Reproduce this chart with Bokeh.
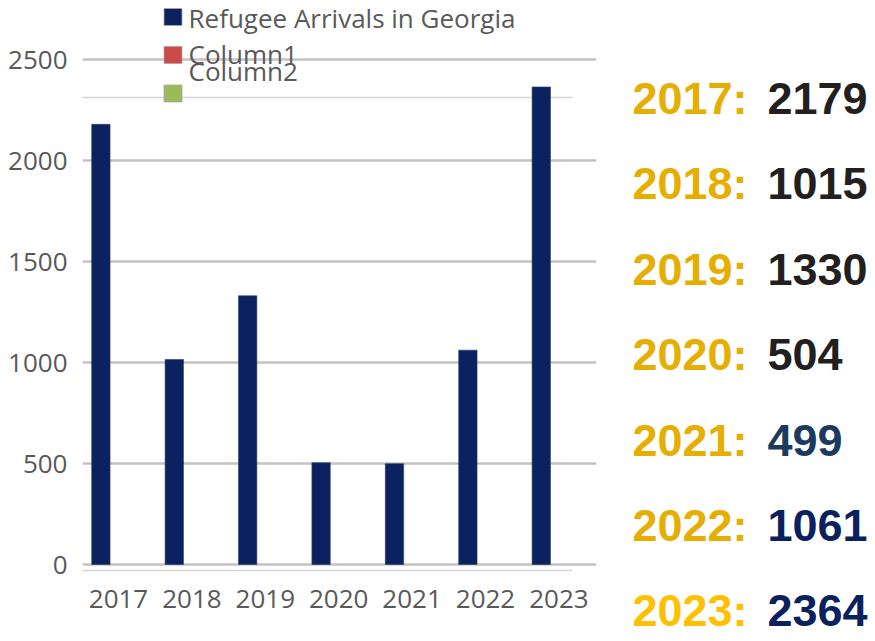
from bokeh.plotting import figure
from bokeh.models import Range1d, FixedTicker, BoxAnnotation, ColumnDataSource
from bokeh.layouts import row
from bokeh.transform import dodge
from bokeh.core.properties import value
from bokeh.embed import file_html
from bokeh.resources import INLINE

# ---- data ----
years = ["2017", "2018", "2019", "2020", "2021", "2022", "2023"]
arrivals = [2179, 1015, 1330, 504, 499, 1061, 2364]
y_ticks = [0, 500, 1000, 1500, 2000, 2500]
legend_labels = ["Refugee Arrivals in Georgia", "Column1", "Column2"]
legend_colors = ["#0C2260", "#CC4B48", "#9BBB59"]
label_colors = ["#E6AE00", "#E6AE00", "#E6AE00", "#E6AE00", "#E6AE00", "#E6AE00", "#FFC000"]
value_colors = ["#231F20", "#231F20", "#231F20", "#231F20", "#1B3A60", "#0B215E", "#0B215E"]

GRAY = "#595959"
AX_FONT = "Open Sans"
AX_SIZE = "26px"

# ---- page-pixel helpers (decoration / layout only) ----
PX_LABEL0 = 118.0   # page x of first category label centre
PX_STEP = 73.4      # page px per category
PY_ZERO = 564.0     # page y of value 0
PY_PER = 0.202      # page px per unit


def px2x(px):
    return (px - PX_LABEL0) / PX_STEP


def py2y(py):
    return (PY_ZERO - py) / PY_PER


W1, W2, H = 608, 267, 641
FRAME_L, FRAME_R, FRAME_B = 82, 596, 575

p = figure(width=W1, height=H, output_backend="svg", toolbar_location=None,
           x_range=Range1d(px2x(FRAME_L), px2x(FRAME_R)),
           y_range=Range1d(py2y(FRAME_B), py2y(0)),
           min_border_left=FRAME_L, min_border_right=W1 - FRAME_R,
           min_border_top=0, min_border_bottom=H - FRAME_B)
p.outline_line_color = None
p.background_fill_color = "white"
p.border_fill_color = "white"
p.frame_align = False

# grid
p.xgrid.visible = False
p.ygrid.ticker = FixedTicker(ticks=y_ticks)
p.ygrid.grid_line_color = "#C3C3C3"
p.ygrid.grid_line_width = 2.5

# y axis
p.yaxis.ticker = FixedTicker(ticks=y_ticks)
p.yaxis.axis_line_color = None
p.yaxis.major_tick_line_color = None
p.yaxis.minor_tick_line_color = None
p.yaxis.major_tick_in = 0
p.yaxis.major_tick_out = 0
p.yaxis.major_label_standoff = 15
p.yaxis.major_label_text_font = AX_FONT
p.yaxis.major_label_text_font_size = AX_SIZE
p.yaxis.major_label_text_color = GRAY

# x axis
idx = list(range(len(years)))
p.xaxis.ticker = FixedTicker(ticks=idx)
p.xaxis.major_label_overrides = {i: y for i, y in zip(idx, years)}
p.xaxis.axis_line_color = None
p.xaxis.major_tick_line_color = None
p.xaxis.minor_tick_line_color = None
p.xaxis.major_tick_in = 0
p.xaxis.major_tick_out = 0
p.xaxis.major_label_standoff = 14
p.xaxis.major_label_text_font = AX_FONT
p.xaxis.major_label_text_font_size = AX_SIZE
p.xaxis.major_label_text_color = GRAY

# faint offset frame lines
for py in (97, 570):
    p.add_layout(BoxAnnotation(left=px2x(53), right=px2x(572),
                               bottom=py2y(py + 0.8), top=py2y(py - 0.8),
                               fill_color="#D6D6D6", fill_alpha=1.0,
                               line_color=None, level="underlay"))

# bars
src = ColumnDataSource(dict(x=idx, top=arrivals, year=years))
p.vbar(x=dodge("x", -0.24, range=p.x_range), top="top", bottom=0, width=0.25,
       source=src, fill_color="#0C2260", line_color="#2A3A6A", line_width=0.6)

# legend (manual, reproducing the overlapped original)
leg_sq_y = [py2y(16.5), py2y(54.5), py2y(93)]
leg_txt_y = [py2y(17), py2y(53), py2y(70)]
p.rect(x=[px2x(172.5)] * 3, y=leg_sq_y, width=18, height=17,
       width_units="screen", height_units="screen",
       fill_color=legend_colors, line_color="#A8A8A8", line_width=0.8)
p.text(x=[px2x(188)] * 3, y=leg_txt_y, text=legend_labels,
       text_font=value(AX_FONT), text_font_size=AX_SIZE, text_color=GRAY,
       text_baseline="alphabetic", text_align="left")

# ---- right-hand panel ----
X0 = W1
ROW0, ROWSTEP = 98.0, 85.4
p2 = figure(width=W2, height=H, output_backend="svg", toolbar_location=None,
            x_range=Range1d(0, W2),
            y_range=Range1d((H - ROW0) / ROWSTEP, -ROW0 / ROWSTEP),
            x_axis_location=None, y_axis_location=None,
            min_border=0, min_border_left=0, min_border_right=0,
            min_border_top=0, min_border_bottom=0)
p2.outline_line_color = None
p2.grid.visible = False
p2.frame_align = False

rsrc = ColumnDataSource(dict(
    y=idx,
    lab=[f"{y}:" for y in years],
    val=[str(v) for v in arrivals],
    lc=label_colors,
    vc=value_colors,
))
p2.text(x=632 - X0, y="y", text="lab", source=rsrc, text_color="lc",
        text_font=value("Liberation Sans"), text_font_style="bold",
        text_font_size="45px", text_baseline="alphabetic", text_align="left")
p2.text(x=767 - X0, y="y", text="val", source=rsrc, text_color="vc",
        text_font=value("Liberation Sans"), text_font_style="bold",
        text_font_size="45px", text_baseline="alphabetic", text_align="left")

layout = row(p, p2, spacing=0)
open("out.html", "w").write(file_html(layout, INLINE))
